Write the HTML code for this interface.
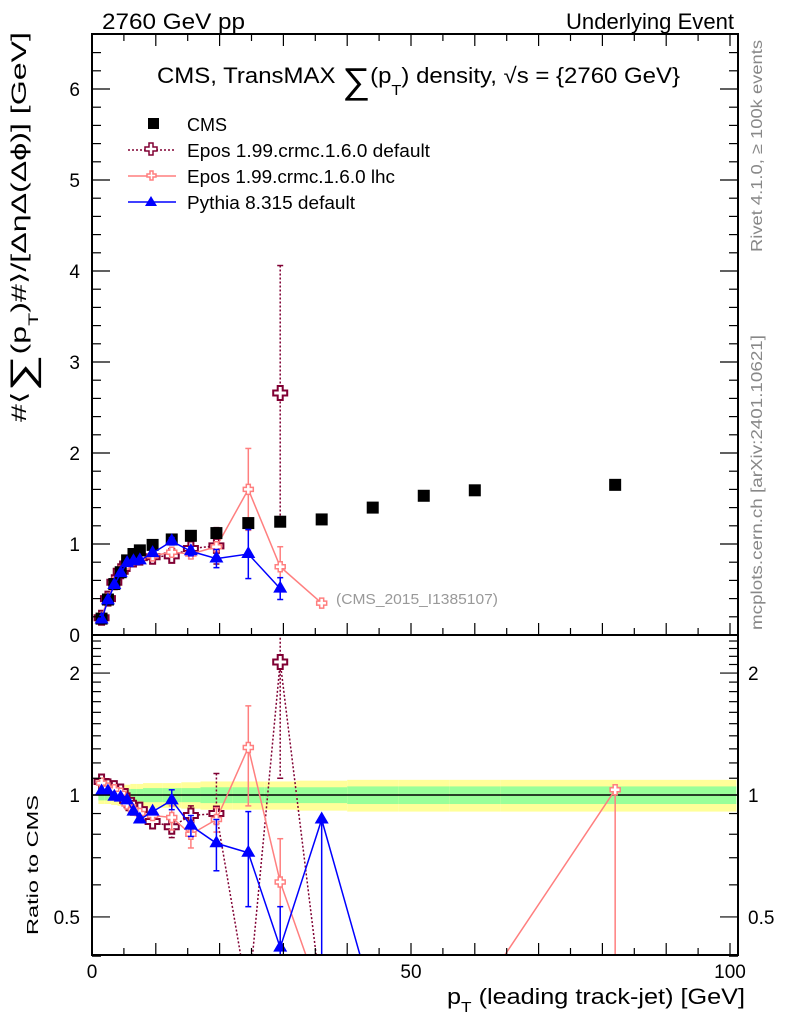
<!DOCTYPE html>
<html><head><meta charset="utf-8"><style>
html,body{margin:0;padding:0;background:#fff;overflow:hidden;width:786px;height:1024px;}
svg{display:block;font-family:"Liberation Sans",Arial,sans-serif;overflow:hidden;}
</style></head><body>
<svg id="chart" width="786" height="1024" xmlns="http://www.w3.org/2000/svg">
<defs>
<clipPath id="clipMain"><rect x="92" y="34" width="646" height="601"/></clipPath>
<clipPath id="clipRatio"><rect x="92" y="636" width="646" height="319"/></clipPath>
</defs>
<g id="bands" clip-path="url(#clipRatio)"></g>
<g id="marks"></g>
<rect x="92" y="34" width="646" height="601" fill="none" stroke="#000" stroke-width="2"/>
<rect x="92" y="635" width="646" height="320" fill="none" stroke="#000" stroke-width="2"/>
<g id="axes"></g>
<text x="102" y="29" font-size="22" textLength="143" lengthAdjust="spacingAndGlyphs">2760 GeV pp</text>
<text x="566" y="29" font-size="22" textLength="168" lengthAdjust="spacingAndGlyphs">Underlying Event</text>
<text x="157" y="83" font-size="22" textLength="523" lengthAdjust="spacingAndGlyphs">CMS, TransMAX <tspan font-size="36" dy="10">∑</tspan><tspan dy="-10">(p</tspan><tspan font-size="15" dy="12">T</tspan><tspan dy="-12">) density, √s = {2760 GeV}</tspan></text>
<text transform="translate(26,422) rotate(-90)" font-size="21" textLength="390" lengthAdjust="spacingAndGlyphs">#⟨<tspan font-size="34" dy="8">∑</tspan><tspan dy="-8">(p</tspan><tspan font-size="14" dy="12">T</tspan><tspan dy="-12">)#⟩/[ΔηΔ(Δϕ)] [GeV]</tspan></text>
<text transform="translate(38,935) rotate(-90)" font-size="16" textLength="140" lengthAdjust="spacingAndGlyphs">Ratio to CMS</text>
<text x="447" y="1004" font-size="22" textLength="298" lengthAdjust="spacingAndGlyphs">p<tspan font-size="15" dy="8">T</tspan><tspan dy="-8"> (leading track-jet) [GeV]</tspan></text>
<text transform="translate(762,252) rotate(-90)" font-size="16" fill="#888" textLength="212" lengthAdjust="spacingAndGlyphs">Rivet 4.1.0, ≥ 100k events</text>
<text transform="translate(762,630) rotate(-90)" font-size="16" fill="#888" textLength="295" lengthAdjust="spacingAndGlyphs">mcplots.cern.ch [arXiv:2401.10621]</text>
<text x="336" y="604" font-size="15" fill="#999" textLength="162" lengthAdjust="spacingAndGlyphs">(CMS_2015_I1385107)</text>
<g id="legend">
<rect x="148" y="118" width="11" height="11" fill="#000"/>
<text x="187" y="131" font-size="18">CMS</text>
<line x1="128" y1="150" x2="176" y2="150" stroke="#800033" stroke-width="1.5" stroke-dasharray="2,2"/>
<path d="M149 143h4v4h4v4h-4v4h-4v-4h-4v-4h4z" fill="#fff" stroke="#800033" stroke-width="1.5"/>
<text x="187" y="157" font-size="18" textLength="243" lengthAdjust="spacingAndGlyphs">Epos 1.99.crmc.1.6.0 default</text>
<line x1="128" y1="176" x2="176" y2="176" stroke="#ff7f7f" stroke-width="1.5"/>
<path d="M150 171h3v3h3v3h-3v3h-3v-3h-3v-3h3z" fill="#fff" stroke="#ff7f7f" stroke-width="1.5"/>
<text x="187" y="183" font-size="18" textLength="208" lengthAdjust="spacingAndGlyphs">Epos 1.99.crmc.1.6.0 lhc</text>
<line x1="128" y1="202" x2="176" y2="202" stroke="#0000ff" stroke-width="1.5"/>
<path d="M151 196l6 10h-12z" fill="#0000ff"/>
<text x="187" y="209" font-size="18" textLength="168" lengthAdjust="spacingAndGlyphs">Pythia 8.315 default</text>
</g>
</svg>
<script>
// ---- data ----
const cmsX = [1.5,2.5,3.5,4.5,5.5,6.5,7.5,9.5,12.5,15.5,19.5,24.5,29.5,36,44,52,60,82];
const cmsY = [0.18,0.39,0.56,0.69,0.82,0.89,0.93,0.99,1.05,1.09,1.12,1.23,1.245,1.27,1.40,1.53,1.59,1.65];
const modelX = [1.5,2.5,3.5,4.5,5.5,6.5,7.5,9.5,12.5,15.5,19.5,24.5,29.5,36];
const eposDefY = [0.19,0.40,0.58,0.70,0.78,0.83,0.85,0.86,0.87,0.95,0.98,null,2.66,null];
const eposDefErr = [0.01,0.01,0.01,0.01,0.01,0.01,0.01,0.02,0.03,0.05,0.2,0,1.4,0];
const eposLhcY = [0.19,0.40,0.58,0.70,0.78,0.83,0.85,0.87,0.91,0.89,0.97,1.60,0.75,0.35];
const eposLhcErr = [0.01,0.01,0.01,0.01,0.01,0.01,0.01,0.02,0.03,0.05,0.05,0.45,0.22,0.02];
const pythiaY = [0.17,0.38,0.55,0.68,0.79,0.81,0.82,0.90,1.03,0.92,0.84,0.89,0.51,null];
const pythiaErr = [0.01,0.01,0.01,0.01,0.01,0.01,0.01,0.02,0.04,0.05,0.10,0.27,0.12,0];
const ratioX = [1.5,2.5,3.5,4.5,5.5,6.5,7.5,9.5,12.5,15.5,19.5,24.5,29.5,36,44,52,60,82];
const ratioEposDef = [1.08,1.05,1.04,1.02,0.97,0.93,0.92,0.86,0.835,0.89,0.90,0.3,2.13,0.3,null,null,null,null];
const ratioEposLhc = [1.07,1.04,1.03,1.01,0.95,0.92,0.90,0.89,0.88,0.80,0.87,1.31,0.61,0.28,null,null,0.28,1.03];
const ratioPythia = [1.02,1.02,0.99,0.985,0.97,0.91,0.87,0.91,0.97,0.84,0.76,0.72,0.42,0.87,0.2,null,null,null];
const bandEdges = [1,2,3,4,5,6,7,8,11,14,17,22,27,32,40,48,56,64,101];
const bandInner = [0.03,0.03,0.03,0.03,0.035,0.035,0.035,0.04,0.04,0.04,0.045,0.045,0.045,0.045,0.05,0.05,0.05,0.05];
const bandOuter = [0.05,0.05,0.055,0.06,0.06,0.065,0.065,0.07,0.07,0.075,0.08,0.08,0.08,0.085,0.09,0.09,0.09,0.09];
const xTicks = [0,50,100];
const yTicks = [0,1,2,3,4,5,6];
const rTicks = [0.5,1,2];

// ---- axes functions ----
const X = v => 92 + v*6.38;
const Y = v => 635 - v*91;
const R = v => 795 - Math.log10(v)*405;
const NS = 'http://www.w3.org/2000/svg';
function mk(tag, attrs, parent){const e=document.createElementNS(NS,tag);for(const k in attrs)e.setAttribute(k,attrs[k]);parent.appendChild(e);return e;}
const axes=document.getElementById('axes');
const marks=document.getElementById('marks');
const bands=document.getElementById('bands');

for(let i=0;i<bandInner.length;i++){
  const x0=X(bandEdges[i]), x1=X(bandEdges[i+1]);
  const yb=mk('rect',{x:x0,y:R(1+bandOuter[i]),width:x1-x0,height:R(1-bandOuter[i])-R(1+bandOuter[i]),fill:'#ffff99'},bands);
  
  
  const gb=mk('rect',{x:x0,y:R(1+bandInner[i]),width:x1-x0,height:R(1-bandInner[i])-R(1+bandInner[i]),fill:'#99ff99'},bands);
  
  
}
const one=mk('line',{x1:92,x2:738,y1:R(1),y2:R(1),stroke:'#000','stroke-width':1.5},bands);



for(let v=0;v<=101;v+=5){
  const len = v%10===0?12:7;
  mk('line',{x1:X(v),x2:X(v),y1:955,y2:955-len,stroke:'#000','stroke-width':1.2},axes);
  mk('line',{x1:X(v),x2:X(v),y1:635,y2:635-len,stroke:'#000','stroke-width':1.2},axes);
  mk('line',{x1:X(v),x2:X(v),y1:34,y2:34+len,stroke:'#000','stroke-width':1.2},axes);
}
xTicks.forEach(v=>{
  const t=mk('text',{x:X(v),y:978,'font-size':19,'text-anchor':'middle'},axes);
  t.textContent=v;
  
  
});
for(let v=0;v<=6.6;v+=0.2){
  const major=Math.abs(v-Math.round(v))<1e-6;
  const len=major?18:9;
  mk('line',{x1:92,x2:92+len,y1:Y(v),y2:Y(v),stroke:'#000','stroke-width':1.2},axes);
  mk('line',{x1:738,x2:738-len,y1:Y(v),y2:Y(v),stroke:'#000','stroke-width':1.2},axes);
}
yTicks.forEach(v=>{
  const t=mk('text',{x:80,y:Y(v)+7,'font-size':19,'text-anchor':'end'},axes);
  t.textContent=v;
  
  
});
const rMinor=[0.4,0.5,0.6,0.7,0.8,0.9,1,1.1,1.2,1.3,1.4,1.5,1.6,1.7,1.8,1.9,2,2.1,2.2,2.3,2.4];
rMinor.forEach(v=>{
  const major=rTicks.includes(v);
  const len=major?18:9;
  mk('line',{x1:92,x2:92+len,y1:R(v),y2:R(v),stroke:'#000','stroke-width':1.2},axes);
  mk('line',{x1:738,x2:738-len,y1:R(v),y2:R(v),stroke:'#000','stroke-width':1.2},axes);
});
rTicks.forEach(v=>{
  const t=mk('text',{x:80,y:R(v)+7,'font-size':19,'text-anchor':'end'},axes);
  t.textContent=v;
  
  
  const t2=mk('text',{x:748,y:R(v)+7,'font-size':19,'text-anchor':'start'},axes);
  t2.textContent=v;
  
  
});

function series(xs, ys, errs, fy, color, dash, marker, clip, name){
  const g=mk('g',{'clip-path':clip},marks);
  
  
  let d='', pen=false;
  xs.forEach((x,i)=>{
    if(ys[i]==null){pen=false;return;}
    d+=(pen?'L':'M')+X(x)+' '+Math.min(fy(ys[i]),1000)+' ';pen=true;
  });
  mk('path',{d:d,fill:'none',stroke:color,'stroke-width':1.5,'stroke-dasharray':dash||'none'},g);
  xs.forEach((x,i)=>{
    if(ys[i]==null)return;
    const cx=X(x), cy=fy(ys[i]);
    if(errs && errs[i]){
      const lo=Array.isArray(errs[i])?errs[i][0]:ys[i]-errs[i];
      const hi=Array.isArray(errs[i])?errs[i][1]:ys[i]+errs[i];
      const y1=fy(hi), y2=lo>0?Math.min(fy(lo),958):958;
      mk('line',{x1:cx,x2:cx,y1:y1,y2:y2,stroke:color,'stroke-width':1.5,'stroke-dasharray':dash||'none'},g);
      mk('line',{x1:cx-3,x2:cx+3,y1:y1,y2:y1,stroke:color,'stroke-width':1.5},g);
      if(lo>0) mk('line',{x1:cx-3,x2:cx+3,y1:y2,y2:y2,stroke:color,'stroke-width':1.5},g);
    }
    if(cy>960) return;
    let m;
    if(marker==='square') m=mk('rect',{x:cx-6,y:cy-6,width:12,height:12,fill:'#000'},g);
    else if(marker==='cross') m=mk('path',{d:`M${cx-2.5} ${cy-7}h5v4.5h4.5v5h-4.5v4.5h-5v-4.5h-4.5v-5h4.5z`,fill:'#fff',stroke:color,'stroke-width':2},g);
    else if(marker==='smallcross') m=mk('path',{d:`M${cx-2} ${cy-5}h4v3h3v4h-3v3h-4v-3h-3v-4h3z`,fill:'#fff',stroke:color,'stroke-width':1.5},g);
    else m=mk('path',{d:`M${cx} ${cy-8}l7 12h-14z`,fill:color},g);
    
    
  });
}
const cmsErr = cmsY.map(()=>0);
series(modelX,eposDefY,eposDefErr,Y,'#800033','2,2','cross','url(#clipMain)','epos-default-series');
series(modelX,eposLhcY,eposLhcErr,Y,'#ff7f7f',null,'smallcross','url(#clipMain)','epos-lhc-series');
series(cmsX,cmsY,cmsErr,Y,'#000','0,10000','square','url(#clipMain)','cms-data-series');
series(modelX,pythiaY,pythiaErr,Y,'#0000ff',null,'triangle','url(#clipMain)','pythia-series');
const rDefErr=ratioX.map((x,i)=>i===10?[0.85,1.13]:i===12?[1.1,3]:(i>=8&&i<=9?[ratioEposDef[i]-0.05,ratioEposDef[i]+0.05]:0));
const rLhcErr=ratioX.map((x,i)=>i===11?[0.94,1.66]:i===12?[0.1,0.78]:i===17?[0.1,1.03]:(i>=8&&i<=10?[ratioEposLhc[i]-0.06,ratioEposLhc[i]+0.06]:0));
const rPyErr=ratioX.map((x,i)=>i===8?[0.92,1.03]:i===9?[0.79,0.89]:i===10?[0.65,0.87]:i===11?[0.53,0.91]:i===12?[0.1,0.53]:i===13?[0.1,0.87]:0);
series(ratioX,ratioEposDef,rDefErr,R,'#800033','2,2','cross','url(#clipRatio)','ratio-epos-default-series');
series(ratioX,ratioEposLhc,rLhcErr,R,'#ff7f7f',null,'smallcross','url(#clipRatio)','ratio-epos-lhc-series');
series(ratioX,ratioPythia,rPyErr,R,'#0000ff',null,'triangle','url(#clipRatio)','ratio-pythia-series');
</script>
</body></html>
